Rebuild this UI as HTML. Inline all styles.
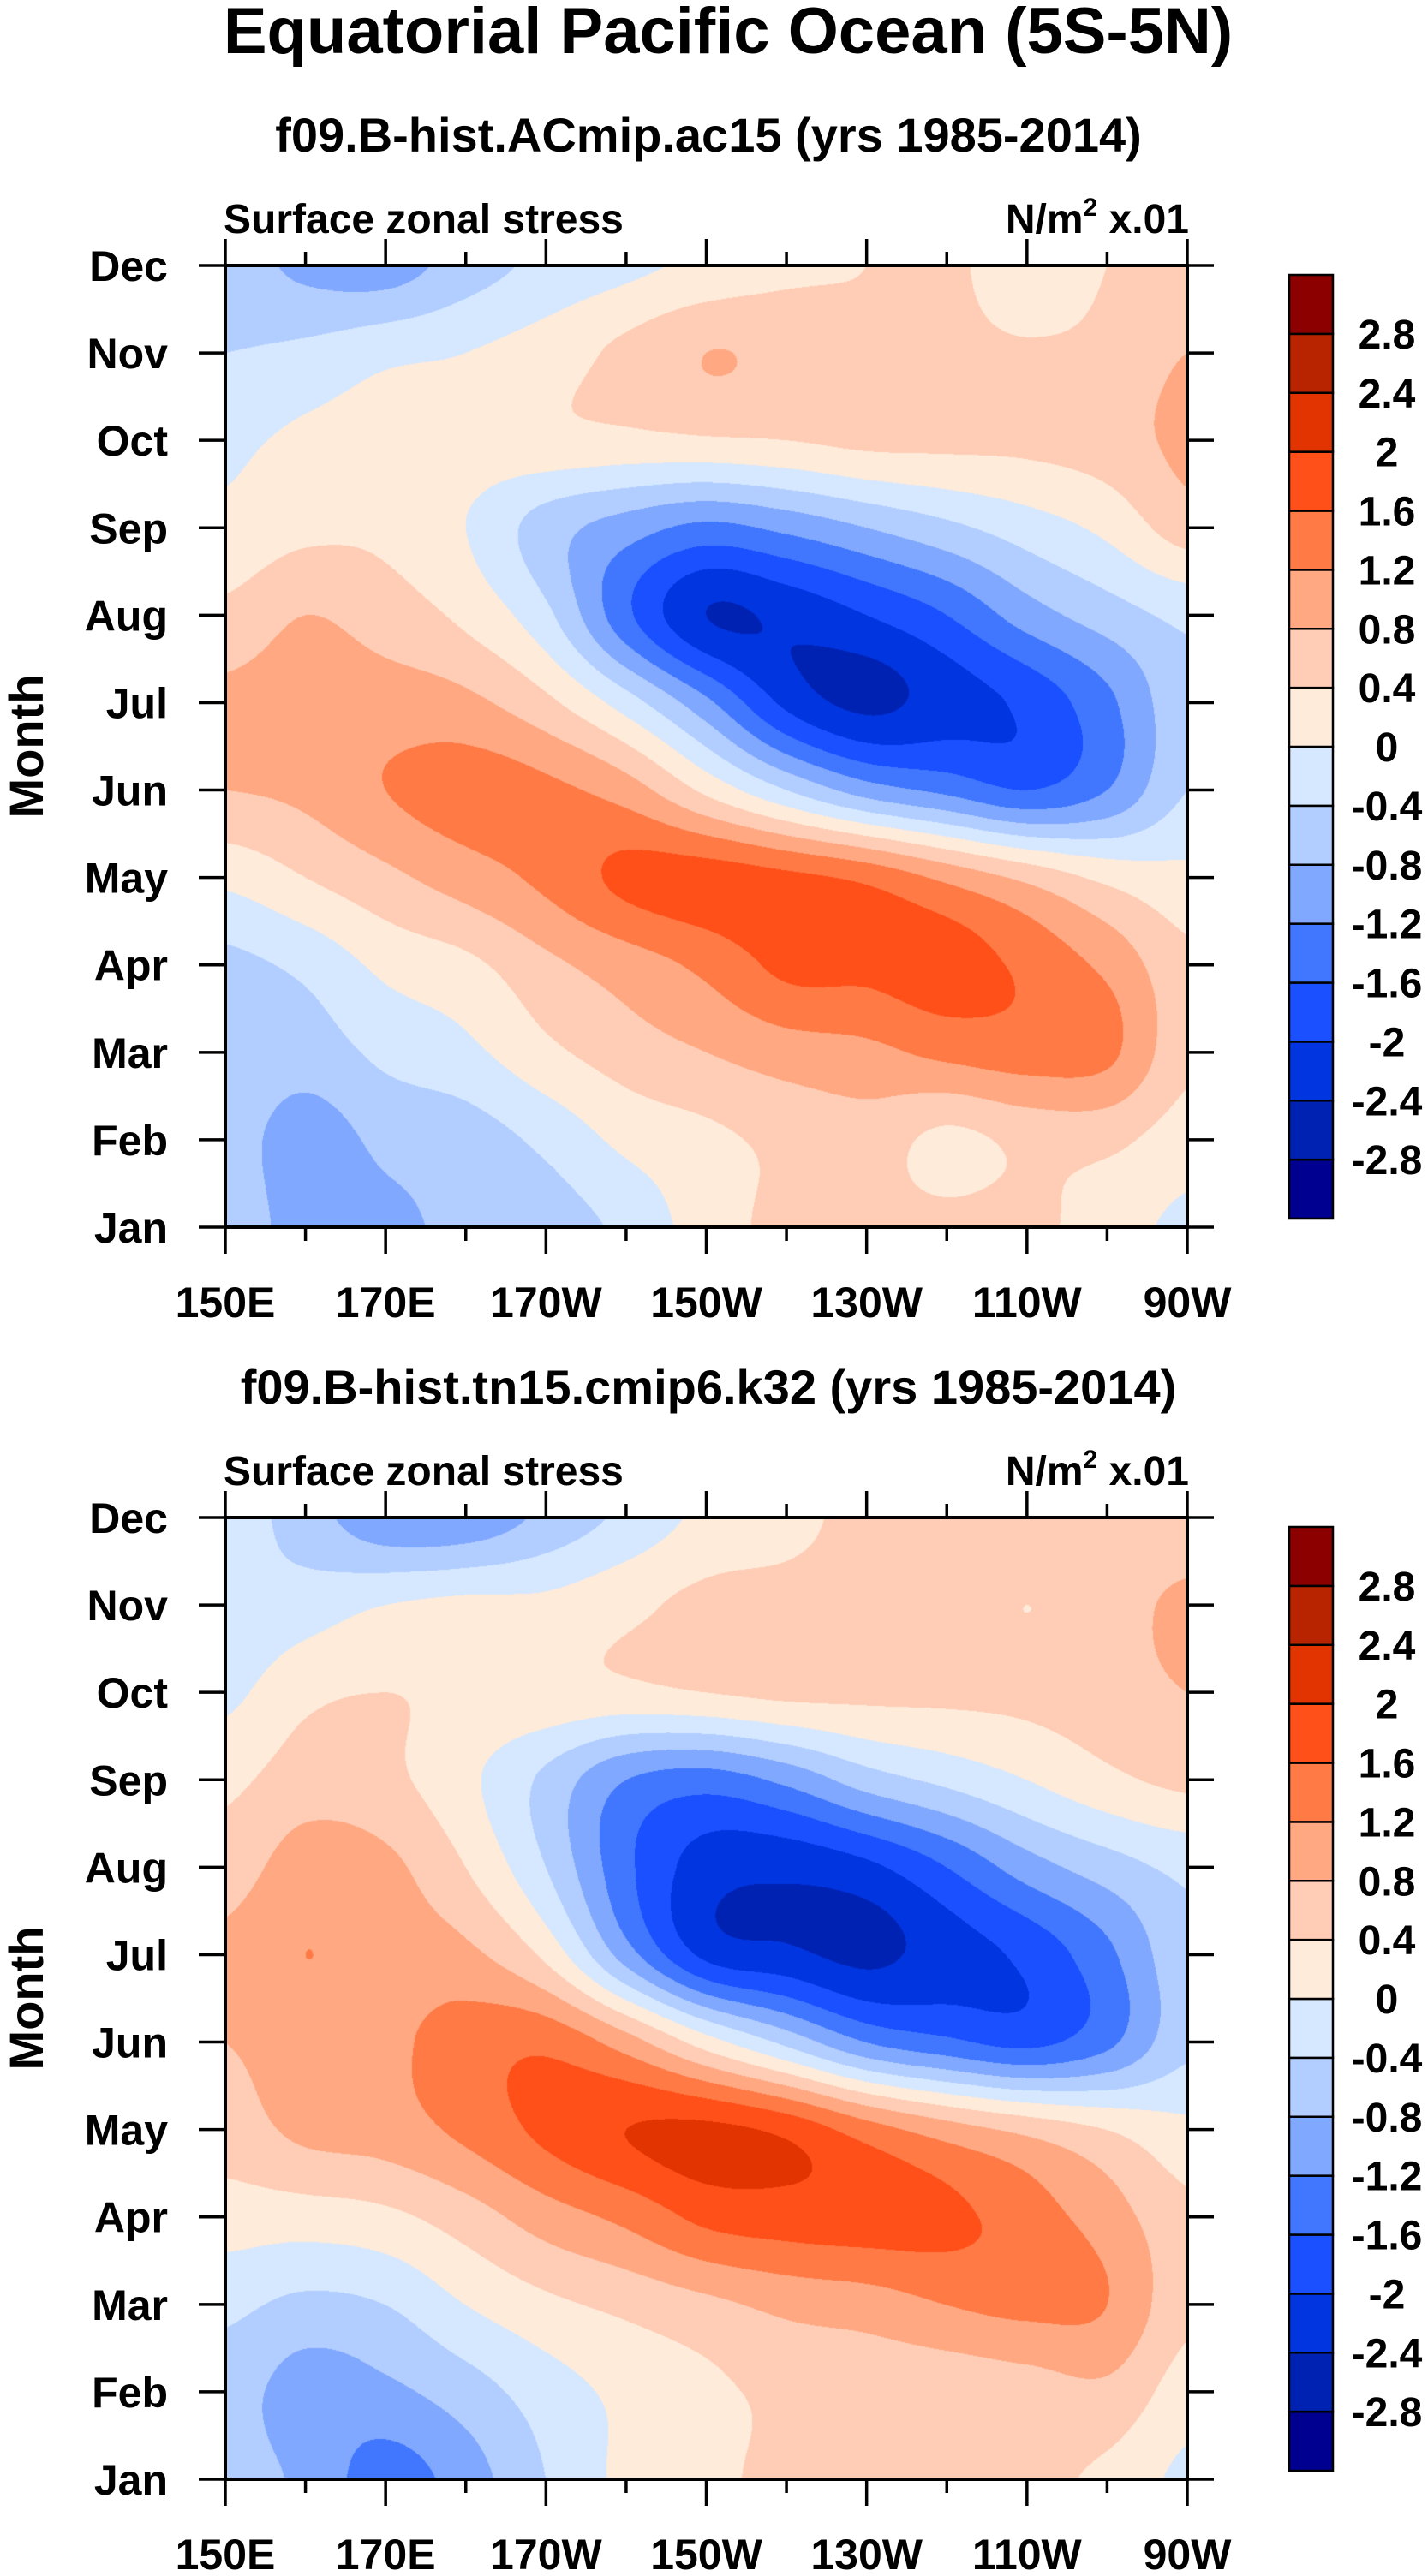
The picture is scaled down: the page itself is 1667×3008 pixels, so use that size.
<!DOCTYPE html>
<html><head><meta charset="utf-8">
<style>
html,body{margin:0;padding:0;background:#fff;}
#wrap{position:relative;width:1667px;height:3008px;overflow:hidden;font-family:"Liberation Sans",Arial,sans-serif;}
canvas{position:absolute;}
svg{position:absolute;left:0;top:0;}
text{font-family:"Liberation Sans",Arial,sans-serif;font-weight:bold;fill:#000;}
</style></head>
<body>
<div id="wrap">
<canvas id="c1" width="1123" height="1123" style="left:263px;top:310px"></canvas>
<canvas id="c2" width="1123" height="1124" style="left:263px;top:1772px"></canvas>
<svg id="svg" width="1667" height="3008"></svg>
</div>
<script>
// ---- data ----
const months = ["Jan","Feb","Mar","Apr","May","Jun","Jul","Aug","Sep","Oct","Nov","Dec"];
const lonTicks = ["150E","170E","170W","150W","130W","110W","90W"];
const lonCount = 13; // 150E..90W every 10 deg
const levels = [-2.8,-2.4,-2,-1.6,-1.2,-0.8,-0.4,0,0.4,0.8,1.2,1.6,2,2.4,2.8];
const levelLabels = ["-2.8","-2.4","-2","-1.6","-1.2","-0.8","-0.4","0","0.4","0.8","1.2","1.6","2","2.4","2.8"];
const colors = ["#000090","#0022b3","#0035e0","#1a50ff","#4177ff","#80a8ff","#b2cdff","#d5e8ff","#ffebda","#ffcdb5","#ffa882","#ff7a45","#ff5019","#e23400","#b82400","#8c0000"];
// rows Jan..Dec, columns 150E..90W
const dataTop = [
[-0.5,-1.0,-0.9,-0.7,-0.6,-0.3,0.2,0.5,0.5,0.5,0.5,0.2,-0.1],
[-0.6,-1.0,-0.7,-0.6,-0.3,0.1,0.3,0.5,0.6,0.3,0.5,0.5,0.2],
[-0.5,-0.6,-0.3,-0.1,0.3,0.6,0.8,1.0,1.1,1.3,1.4,1.3,0.5],
[-0.5,-0.3,0.1,0.3,0.7,1.0,1.3,1.7,1.7,1.8,1.5,1.1,0.5],
[0.1,0.4,0.7,1.0,1.3,1.7,1.8,1.7,1.5,1.1,0.7,0.3,0.1],
[0.8,0.9,1.2,1.4,1.3,1.0,0.3,-0.4,-1.0,-1.3,-1.6,-1.2,-0.4],
[0.9,1.0,1.0,0.9,0.5,-0.2,-1.1,-2.1,-2.5,-2.2,-1.9,-1.3,-0.5],
[0.5,0.8,0.6,0.3,-0.3,-1.5,-2.4,-2.3,-2.0,-1.6,-1.0,-0.6,-0.3],
[0.1,0.3,0.3,0.0,-0.6,-1.0,-1.3,-1.1,-0.8,-0.5,-0.2,0.1,0.6],
[-0.1,0.1,0.2,0.2,0.3,0.3,0.35,0.4,0.5,0.5,0.5,0.6,0.9],
[-0.4,-0.3,-0.1,0.0,0.2,0.5,0.8,0.7,0.5,0.5,0.45,0.5,0.8],
[-0.6,-0.9,-1.0,-0.6,-0.3,-0.1,0.1,0.3,0.4,0.5,0.1,0.4,0.4]
];
const dataBottom = [
[-0.6,-0.9,-1.4,-1.0,-0.4,0.1,0.3,0.5,0.5,0.5,0.5,0.3,-0.1],
[-0.6,-1.0,-0.9,-0.6,-0.2,0.1,0.3,0.5,0.5,0.5,0.6,0.7,0.2],
[-0.3,-0.5,-0.4,0.0,0.3,0.5,0.7,0.9,1.0,1.2,1.3,1.2,0.5],
[0.2,0.2,0.3,0.6,1.0,1.3,1.7,1.8,1.8,1.7,1.4,1.0,0.5],
[0.6,0.9,1.0,1.3,1.7,2.0,2.1,1.9,1.4,1.0,0.7,0.4,0.1],
[0.8,1.0,1.1,1.4,1.5,1.0,0.2,-0.5,-1.2,-1.5,-1.7,-1.3,-0.5],
[0.9,1.2,1.0,0.9,0.3,-1.0,-2.1,-2.3,-2.5,-2.2,-1.9,-1.3,-0.5],
[0.6,1.0,0.9,0.4,-0.4,-1.5,-2.2,-2.3,-2.1,-1.6,-1.0,-0.6,-0.3],
[0.3,0.6,0.5,0.1,-0.5,-1.2,-1.4,-1.1,-0.6,-0.3,0.0,0.3,0.5],
[-0.1,0.3,0.4,0.3,0.3,0.3,0.4,0.5,0.5,0.5,0.5,0.6,0.8],
[-0.3,-0.2,0.0,0.1,0.1,0.3,0.5,0.5,0.5,0.6,0.4,0.6,0.9],
[-0.2,-0.6,-1.1,-1.1,-0.7,-0.3,0.1,0.3,0.5,0.6,0.6,0.5,0.5]
];

// ---- helpers ----
const NS="http://www.w3.org/2000/svg";
const svg=document.getElementById('svg');
function mk(tag,attrs,parent){const e=document.createElementNS(NS,tag);for(const k in attrs)e.setAttribute(k,attrs[k]);(parent||svg).appendChild(e);return e;}
function txt(s,x,y,size,anchor,parent){const t=mk('text',{x:x,y:y,'font-size':size,'text-anchor':anchor||'start'},parent);t.textContent=s;return t;}
function hex(c){return [parseInt(c.slice(1,3),16),parseInt(c.slice(3,5),16),parseInt(c.slice(5,7),16)];}
const rgb=colors.map(hex);
function levelIndex(v){let i=0;while(i<levels.length&&v>=levels[i])i++;return i;}
function cr(p0,p1,p2,p3,t){return 0.5*((2*p1)+(-p0+p2)*t+(2*p0-5*p1+4*p2-p3)*t*t+(-p0+3*p1-3*p2+p3)*t*t*t);}
function sample(data,fx,fy){
  const nx=data[0].length,ny=data.length;
  const i1=Math.min(nx-2,Math.floor(fx)),j1=Math.min(ny-2,Math.floor(fy));
  const tx=fx-i1,ty=fy-j1;
  const ci=i=>Math.max(0,Math.min(nx-1,i)),cj=j=>Math.max(0,Math.min(ny-1,j));
  const rows=[];
  for(let dj=-1;dj<=2;dj++){const r=data[cj(j1+dj)];
    rows.push(cr(r[ci(i1-1)],r[ci(i1)],r[ci(i1+1)],r[ci(i1+2)],tx));}
  return cr(rows[0],rows[1],rows[2],rows[3],ty);
}

function drawMap(id,data){
  const cv=document.getElementById(id),ctx=cv.getContext('2d');
  const W=cv.width,H=cv.height,img=ctx.createImageData(W,H);
  for(let py=0;py<H;py++){
    const fy=11-(py+0.5)/H*11;
    for(let px=0;px<W;px++){
      const fx=(px+0.5)/W*(lonCount-1);
      const v=sample(data,fx,fy);
      const c=rgb[levelIndex(v)];const k=(py*W+px)*4;
      img.data[k]=c[0];img.data[k+1]=c[1];img.data[k+2]=c[2];img.data[k+3]=255;
    }
  }
  ctx.putImageData(img,0,0);
}
drawMap('c1',dataTop);
drawMap('c2',dataBottom);

// ---- axes ----
function panel(top,subtitle,name){
  const g=mk('g',{});
  
  
  const L=263,R=1386,T=top,B=top+1123;
  const xs=i=>L+(R-L)*i/12; const ys=m=>B-(B-T)*m/11;
  const st=txt(subtitle,827,top-133,56,'middle',g);
  
  const lt=txt('Surface zonal stress',L-2,top-38,48,'start',g);
  
  const ut=mk('text',{x:R+2,y:top-38,'font-size':48,'text-anchor':'end'},g);
  ut.innerHTML='N/m<tspan dy="-20" font-size="30">2</tspan><tspan dy="20"> x.01</tspan>';
  
  const fr=mk('rect',{x:L,y:T,width:R-L,height:B-T,fill:'none',stroke:'#000','stroke-width':4},g);
  
  for(let i=0;i<lonCount;i++){
    const major=i%2===0,len=major?31:16,x=xs(i);
    const t1=mk('line',{x1:x,y1:T,x2:x,y2:T-len,stroke:'#000','stroke-width':3.5},g);
    
    const t2=mk('line',{x1:x,y1:B,x2:x,y2:B+len,stroke:'#000','stroke-width':3.5},g);
    
    if(major){const l=txt(lonTicks[i/2],x,B+105,50,'middle',g);
      }
  }
  months.forEach((m,k)=>{
    const y=ys(k);
    const t1=mk('line',{x1:L,y1:y,x2:L-31,y2:y,stroke:'#000','stroke-width':3.5},g);
    
    const t2=mk('line',{x1:R,y1:y,x2:R+31,y2:y,stroke:'#000','stroke-width':3.5},g);
    
    const l=txt(m,196,y+18,50,'end',g);
    
  });
  const yt=txt('Month',0,0,56,'middle',g);
  yt.setAttribute('transform','translate(50,'+((T+B)/2)+') rotate(-90)');
  
  // colorbar
  const cb=mk('g',{},g);
  
  const cT=top+11,cB=top+1113,cL=1505,cW=51,h=(cB-cT)/colors.length;
  colors.forEach((c,i)=>{
    const r=mk('rect',{x:cL,y:cB-(i+1)*h,width:cW,height:h,fill:c,stroke:'#000','stroke-width':2.5},cb);
    
  });
  levelLabels.forEach((s,i)=>{
    const l=txt(s,1619,cB-(i+1)*h+17,48,'middle',cb);
    
  });
}
const mt=txt('Equatorial Pacific Ocean (5S-5N)',850,62,76,'middle');

panel(310,'f09.B-hist.ACmip.ac15 (yrs 1985-2014)','top-panel');
panel(1772,'f09.B-hist.tn15.cmip6.k32 (yrs 1985-2014)','bottom-panel');
</script>
</body></html>
